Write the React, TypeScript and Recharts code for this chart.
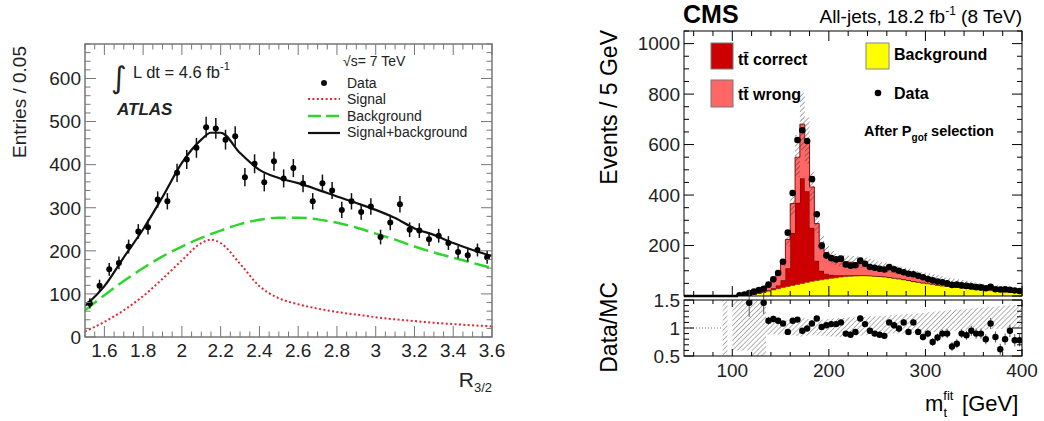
import React from "react";
import {
  Area,
  ComposedChart,
  ErrorBar,
  Line,
  ReferenceLine,
  Scatter,
  XAxis,
  YAxis,
} from "recharts";

document.body.style.margin = "0";

const FONT = "'Liberation Sans', Arial, Helvetica, sans-serif";

// ATLAS R_3/2 distribution, bins of 0.05 starting at 1.5
const atlasBinStart = 1.5;
const atlasBinWidth = 0.05;
const atlasCounts = [
  78, 119, 157, 172, 210, 245, 255, 319, 315, 381, 412, 439, 487, 484, 458, 466, 371, 402, 359, 408,
  368, 392, 356, 315, 357, 340, 295, 315, 290, 303, 232, 266, 308, 249, 247, 227, 235, 218, 197, 190,
  202, 185,
];
const atlasErrors = [
  12, 14, 15, 15, 16, 17, 17, 19, 19, 21, 22, 23, 24, 24, 23, 23, 21, 22, 21, 22, 21, 21, 20, 19, 20,
  20, 19, 19, 18, 19, 17, 18, 19, 17, 17, 16, 16, 16, 15, 15, 15, 15,
];

// fitted curves
const fitX = [1.5, 1.6, 1.7, 1.8, 1.9, 2.0, 2.1, 2.15, 2.2, 2.3, 2.4, 2.5, 2.6, 2.7, 2.8, 2.9, 3.0, 3.1, 3.2, 3.3, 3.4, 3.5, 3.6];
const fitSignal = [13, 35, 62, 95, 135, 178, 218, 226, 218, 170, 118, 90, 76, 66, 58, 52, 46, 41, 37, 33, 30, 27, 25];
const fitBackground = [62, 97, 130, 160, 187, 210, 230, 239, 247, 262, 272, 277, 277, 273, 265, 254, 240, 226, 210, 196, 184, 172, 160];
const fitTotal = [72, 118, 185, 250, 325, 404, 458, 474, 474, 427, 388, 369, 357, 342, 326, 311, 295, 276, 252, 237, 218, 202, 188];

// CMS m_t^fit, bins of 5 GeV starting at 90
const cmsBinStart = 90;
const cmsBinWidth = 5;
const cmsBackground = [
  0, 0, 0, 0, 1, 3, 6, 10, 14, 19, 24, 29, 34, 38, 42, 46, 50, 54, 58, 61, 64, 67, 70, 72, 75, 77, 78,
  79, 80, 80, 79, 78, 77, 75, 73, 70, 67, 64, 61, 57, 54, 51, 48, 46, 43, 40, 38, 36, 34, 32, 30, 28,
  26, 24, 22, 21, 19, 18, 16, 15, 14, 13,
];
const cmsCorrect = [
  0, 0, 0, 0, 0, 0, 1, 1, 2, 4, 7, 13, 28, 72, 208, 323, 417, 361, 212, 79, 36, 21, 14, 10, 7, 5, 4,
  3, 2, 2, 2, 2, 2, 2, 2, 2, 2, 2, 2, 2, 2, 2, 2, 1, 1, 1, 1, 1, 1, 1, 1, 1, 1, 1, 1, 1, 1, 1, 1, 1,
  1, 1,
];
const cmsWrong = [
  0, 0, 0, 2, 4, 6, 8, 10, 14, 24, 36, 51, 71, 114, 116, 181, 214, 195, 162, 147, 111, 84, 68, 61, 56,
  54, 52, 51, 48, 45, 40, 37, 33, 32, 29, 27, 26, 25, 24, 23, 22, 22, 21, 20, 19, 19, 17, 16, 15, 15,
  14, 13, 12, 12, 12, 11, 11, 10, 10, 9, 8, 8,
];
const cmsData: (number | null)[] = [
  null, null, null, 3, 6, 12, 18, 24, 29, 45, 66, 91, 136, 251, 408, 618, 657, 614, 463, 324, 199,
  160, 150, 145, 148, 125, 120, 122, 140, 128, 115, 112, 108, 105, 115, 106, 100, 94, 88, 86, 80, 74,
  67, 62, 57, 54, 50, 44, 45, 42, 40, 38, 35, 34, 31, 36, 27, 26, 27, 25, 22, 20,
];
const cmsRatio: (number | null)[] = [
  null, null, null, null, null, 1.45, null, null, 1.45,
  1.13, 1.16, 1.13, 1.08, 0.93, 1.13, 1.15, 0.95, 0.99, 1.08, 1.17, 1.02, 1.05, 1.07, 1.07, 1.1, 0.9,
  0.88, 0.93, 1.17, 1.07, 0.95, 0.9, 0.88, 0.86, 1.1, 1.05, 0.99, 1.1, 0.93, 1.1, 0.93, 0.84, 0.9,
  0.75, 0.83, 0.9, 0.9, 0.67, 0.72, 0.9, 0.87, 0.95, 0.9, 0.9, 0.8, 1.08, 0.84, 0.62, 0.8, 0.95, 0.78,
  0.78,
];
const cmsRatioErr: (number | null)[] = [
  null, null, null, null, null, 0.25, null, null, 0.2,
  0.07, 0.06, 0.05, 0.04, 0.03, 0.03, 0.03, 0.03, 0.03, 0.03, 0.03, 0.04, 0.04,
  0.04, 0.04, 0.05, 0.05, 0.05, 0.05, 0.05, 0.05, 0.05, 0.05,
  0.05, 0.05, 0.05, 0.06, 0.06, 0.06, 0.06, 0.06, 0.06, 0.06,
  0.07, 0.07, 0.07, 0.07, 0.08, 0.08, 0.08, 0.08, 0.08, 0.09,
  0.09, 0.09, 0.09, 0.1, 0.1, 0.1, 0.1, 0.11, 0.11, 0.11,
];
// MC uncertainty band, relative to the MC sum
const cmsBandLo = [
  0.5, 1, 0.6, 0.6, 0.6, 0.6, 0.5, 0.5, 0.5,
  0.88, 0.89, 0.88, 0.89, 0.88, 0.87, 0.86, 0.85, 0.86, 0.87, 0.87, 0.86, 0.86,
  0.85, 0.85, 0.84, 0.84, 0.85, 0.86, 0.86, 0.87, 0.87, 0.88,
  0.88, 0.89, 0.89, 0.9, 0.9, 0.9, 0.91, 0.91, 0.92, 0.92,
  0.93, 0.93, 0.94, 0.94, 0.95, 0.95, 0.95, 0.96, 0.96, 0.96,
  0.97, 0.97, 0.97, 0.98, 0.98, 0.98, 0.99, 0.99, 0.99, 0.99,
];
const cmsBandHi = [
  1.5, 1, 1.5, 1.5, 1.5, 1.5, 1.5, 1.5, 1.5,
  1.13, 1.12, 1.13, 1.12, 1.14, 1.15, 1.16, 1.18, 1.16, 1.14, 1.14, 1.15, 1.16,
  1.17, 1.17, 1.18, 1.18, 1.19, 1.19, 1.2, 1.2, 1.21, 1.21,
  1.22, 1.22, 1.23, 1.23, 1.24, 1.24, 1.25, 1.25, 1.26, 1.27,
  1.28, 1.29, 1.3, 1.3, 1.31, 1.32, 1.33, 1.33, 1.34, 1.35,
  1.36, 1.36, 1.37, 1.38, 1.38, 1.39, 1.4, 1.4, 1.41, 1.42,
];
const cmsNoDataUpTo = 106;

function range(a: number, b: number, step: number) {
  const out: number[] = [];
  for (let v = a; v <= b + 1e-9; v += step) out.push(Math.round(v * 1000) / 1000);
  return out;
}

const atlasPoints = atlasCounts.map((y, i) => ({
  x: atlasBinStart + (i + 0.5) * atlasBinWidth,
  y,
  err: atlasErrors[i],
}));
const atlasCurve = fitX.map((x, i) => ({
  x,
  sig: fitSignal[i],
  bkg: fitBackground[i],
  tot: fitTotal[i],
}));

const cmsTable = cmsBackground.map((bg, i) => {
  const total = bg + cmsCorrect[i] + cmsWrong[i];
  return {
    x: cmsBinStart + i * cmsBinWidth,
    bg,
    cor: cmsCorrect[i],
    wro: cmsWrong[i],
    band: [total * cmsBandLo[i], total * cmsBandHi[i]],
    rband: [cmsBandLo[i], cmsBandHi[i]],
  };
});
cmsTable.push({ ...cmsTable[cmsTable.length - 1], x: 400 });

const cmsPoints = cmsData
  .map((y, i) => ({ x: cmsBinStart + (i + 0.5) * cmsBinWidth, y }))
  .filter((p) => p.y !== null);
const cmsRatioPoints = cmsRatio
  .map((y, i) => ({ x: cmsBinStart + (i + 0.5) * cmsBinWidth, y, err: cmsRatioErr[i] }))
  .filter((p) => p.y !== null);

type Side = "bottom" | "top" | "left" | "right";

// ticks point inwards, ROOT style; the label is drawn only on major ticks
function makeTick(
  side: Side,
  majors: number[],
  majorLen: number,
  minorLen: number,
  color: string,
  label?: (v: number) => string,
  fontSize = 19,
  offset = 20,
) {
  return (props: any) => {
    const { x, y, payload } = props;
    const v = payload.value as number;
    const major = majors.some((m) => Math.abs(m - v) < 1e-6);
    const len = major ? majorLen : minorLen;
    let x2 = x;
    let y2 = y;
    if (side === "bottom") y2 = y - len;
    if (side === "top") y2 = y + len;
    if (side === "left") x2 = x + len;
    if (side === "right") x2 = x - len;
    let text = null;
    if (label && major) {
      if (side === "bottom") {
        text = (
          <text x={x} y={y + offset} textAnchor="middle" fontSize={fontSize} fontFamily={FONT} fill="#222">
            {label(v)}
          </text>
        );
      } else if (side === "left") {
        text = (
          <text x={x - offset} y={y + fontSize * 0.36} textAnchor="end" fontSize={fontSize} fontFamily={FONT} fill="#222">
            {label(v)}
          </text>
        );
      }
    }
    return (
      <g>
        <line x1={x} y1={y} x2={x2} y2={y2} stroke={color} strokeWidth={1} />
        {text}
      </g>
    );
  };
}

const axisBase = {
  type: "number" as const,
  allowDataOverflow: true,
  interval: 0 as const,
  tickSize: 0,
  tickMargin: 0,
  axisLine: false,
  tickLine: false,
};

const atlasXTicks = range(1.5, 3.6, 0.05);
const atlasXMajors = range(1.6, 3.6, 0.2);
const atlasYTicks = range(0, 680, 20);
const atlasYMajors = range(0, 600, 100);

const cmsXTicks = range(60, 400, 20);
const cmsXMajors = [100, 200, 300, 400];
const cmsYTicks = range(0, 1050, 50);
const cmsYMajors = range(0, 1000, 200);
const ratioYTicks = range(0.5, 1.5, 0.1);
const ratioYMajors = [0.5, 1, 1.5];

const dot = (r: number) => (p: any) => <circle cx={p.cx} cy={p.cy} r={r} fill="#000" />;

function AtlasChart() {
  const grey = "#777";
  return (
    <ComposedChart width={520} height={421} data={atlasCurve} margin={{ top: 43, right: 27, bottom: 83, left: 84 }}>
      <XAxis {...axisBase} dataKey="x" domain={[1.5, 3.6]} ticks={atlasXTicks} height={1}
        tick={makeTick("bottom", atlasXMajors, 11, 5.5, grey, (v) => String(v), 19, 20)} />
      <XAxis {...axisBase} xAxisId="top" orientation="top" dataKey="x" domain={[1.5, 3.6]} ticks={atlasXTicks} height={1}
        tick={makeTick("top", atlasXMajors, 11, 5.5, grey)} />
      <YAxis {...axisBase} domain={[0, 680]} ticks={atlasYTicks} width={1}
        tick={makeTick("left", atlasYMajors, 11, 5.5, grey, (v) => String(v), 19, 4)} />
      <YAxis {...axisBase} yAxisId="right" orientation="right" domain={[0, 680]} ticks={atlasYTicks} width={1}
        tick={makeTick("right", atlasYMajors, 11, 5.5, grey)} />
      <Line dataKey="sig" type="monotone" stroke="#e3262f" strokeWidth={2} strokeDasharray="2 2.4" dot={false} isAnimationActive={false} />
      <Line dataKey="bkg" type="monotone" stroke="#2fd42f" strokeWidth={2.5} strokeDasharray="15 6" dot={false} isAnimationActive={false} />
      <Line dataKey="tot" type="monotone" stroke="#111" strokeWidth={2.2} dot={false} isAnimationActive={false} />
      <Scatter data={atlasPoints} dataKey="y" shape={dot(3)} isAnimationActive={false}>
        <ErrorBar dataKey="err" direction="y" width={0} stroke="#111" strokeWidth={1.5} />
      </Scatter>
    </ComposedChart>
  );
}

function CmsMain() {
  return (
    <ComposedChart width={524} height={300} data={cmsTable} margin={{ top: 30, right: 21, bottom: 3, left: 163 }}>
      <defs>
        <pattern id="hatchMain" width="3.5" height="3.5" patternUnits="userSpaceOnUse" patternTransform="rotate(45)">
          <line x1="0" y1="0" x2="0" y2="3.5" stroke="#333" strokeWidth="0.9" />
        </pattern>
      </defs>
      <XAxis {...axisBase} dataKey="x" domain={[50, 400]} ticks={cmsXTicks} height={1}
        tick={makeTick("bottom", cmsXMajors, 10, 5, "#000")} />
      <XAxis {...axisBase} xAxisId="top" orientation="top" dataKey="x" domain={[50, 400]} ticks={cmsXTicks} height={1}
        tick={makeTick("top", cmsXMajors, 10, 5, "#000")} />
      <YAxis {...axisBase} domain={[0, 1050]} ticks={cmsYTicks} width={1}
        tick={makeTick("left", cmsYMajors, 10, 5, "#000", (v) => (v === 0 ? "" : String(v)), 19, 4)} />
      <YAxis {...axisBase} yAxisId="right" orientation="right" domain={[0, 1050]} ticks={cmsYTicks} width={1}
        tick={makeTick("right", cmsYMajors, 10, 5, "#000")} />
      <Area dataKey="bg" stackId="mc" type="stepAfter" fill="#ffff00" fillOpacity={1} stroke="#6f6f10" strokeWidth={0.8} isAnimationActive={false} />
      <Area dataKey="cor" stackId="mc" type="stepAfter" fill="#cc0000" fillOpacity={1} stroke="#5a0000" strokeWidth={1} isAnimationActive={false} />
      <Area dataKey="wro" stackId="mc" type="stepAfter" fill="#ff6666" fillOpacity={1} stroke="#8a1010" strokeWidth={1} isAnimationActive={false} />
      <Area dataKey="band" type="stepAfter" fill="url(#hatchMain)" fillOpacity={1} stroke="none" isAnimationActive={false} />
      <ReferenceLine segment={[{ x: 50, y: 0 }, { x: cmsNoDataUpTo, y: 0 }]} stroke="#000" strokeWidth={2.5} />
      <Scatter data={cmsPoints} dataKey="y" shape={dot(3.3)} isAnimationActive={false} />
    </ComposedChart>
  );
}

function CmsRatio() {
  return (
    <ComposedChart width={524} height={131} data={cmsTable} margin={{ top: 9, right: 21, bottom: 64, left: 163 }}>
      <defs>
        <pattern id="hatchRatio" width="3.5" height="3.5" patternUnits="userSpaceOnUse" patternTransform="rotate(45)">
          <line x1="0" y1="0" x2="0" y2="3.5" stroke="#444" strokeWidth="0.8" />
        </pattern>
      </defs>
      <XAxis {...axisBase} dataKey="x" domain={[50, 400]} ticks={cmsXTicks} height={1}
        tick={makeTick("bottom", cmsXMajors, 7, 4, "#000", (v) => String(v), 19, 21)} />
      <XAxis {...axisBase} xAxisId="top" orientation="top" dataKey="x" domain={[50, 400]} ticks={cmsXTicks} height={1}
        tick={makeTick("top", cmsXMajors, 7, 4, "#000")} />
      <YAxis {...axisBase} domain={[0.5, 1.5]} ticks={ratioYTicks} width={1}
        tick={makeTick("left", ratioYMajors, 10, 5, "#000", (v) => String(v), 19, 4)} />
      <YAxis {...axisBase} yAxisId="right" orientation="right" domain={[0.5, 1.5]} ticks={ratioYTicks} width={1}
        tick={makeTick("right", ratioYMajors, 10, 5, "#000")} />
      <Area dataKey="rband" type="stepAfter" fill="url(#hatchRatio)" fillOpacity={1} stroke="none" isAnimationActive={false} />
      <ReferenceLine segment={[{ x: 50, y: 1 }, { x: 90, y: 1 }]} stroke="#777" strokeWidth={1} strokeDasharray="1 2" />
      <Scatter data={cmsRatioPoints} dataKey="y" shape={dot(3.2)} isAnimationActive={false}>
        <ErrorBar dataKey="err" direction="y" width={0} stroke="#555" strokeWidth={1} />
      </Scatter>
    </ComposedChart>
  );
}

function Overlay() {
  const t = { fontFamily: FONT, fill: "#222" };
  return (
    <svg width={1044} height={421} style={{ position: "absolute", left: 0, top: 0, pointerEvents: "none" }}>
      {/* ATLAS frame and labels */}
      <rect x={85} y={44} width={407} height={293} fill="none" stroke="#777" strokeWidth={1.5} />
      <text transform="translate(26 46) rotate(-90)" textAnchor="end" fontSize={19} {...t}>Entries / 0.05</text>
      <text x={492} y={387} textAnchor="end" fontSize={21} {...t}>
        R<tspan fontSize={13} dy={5}>3/2</tspan>
      </text>
      <text x={111} y={88} fontSize={30} fontFamily="'DejaVu Sans', sans-serif" fill="#222">∫</text>
      <text x={133} y={78} fontSize={16.5} {...t}>
        L dt = 4.6 fb<tspan fontSize={11} dy={-8}>-1</tspan>
      </text>
      <text x={117} y={115} fontSize={17} fontWeight="bold" fontStyle="italic" {...t}>ATLAS</text>
      <text x={343} y={66} fontSize={14} {...t}>√s= 7 TeV</text>
      <circle cx={324} cy={83} r={3} fill="#111" />
      <line x1={308} y1={99} x2={340} y2={99} stroke="#e3262f" strokeWidth={2} strokeDasharray="2 2.4" />
      <line x1={308} y1={116} x2={340} y2={116} stroke="#2fd42f" strokeWidth={2.5} strokeDasharray="13 5" />
      <line x1={308} y1={133} x2={340} y2={133} stroke="#111" strokeWidth={2.2} />
      <text x={347} y={88} fontSize={14} {...t}>Data</text>
      <text x={347} y={104} fontSize={14} {...t}>Signal</text>
      <text x={347} y={121} fontSize={14} {...t}>Background</text>
      <text x={347} y={137} fontSize={14} {...t}>Signal+background</text>

      {/* CMS frames and labels */}
      <rect x={684} y={31} width={338} height={265} fill="none" stroke="#000" strokeWidth={1} />
      <rect x={684} y={300} width={338} height={56} fill="none" stroke="#000" strokeWidth={1} />
      <text x={683} y={23} fontSize={25} fontWeight="bold" fontFamily={FONT} fill="#000">CMS</text>
      <text x={1022} y={23} textAnchor="end" fontSize={19} fontFamily={FONT} fill="#000">
        All-jets, 18.2 fb<tspan fontSize={12} dy={-8}>-1</tspan>
        <tspan dy={8}> (8 TeV)</tspan>
      </text>
      <text transform="translate(617 30) rotate(-90)" textAnchor="end" fontSize={23} fontFamily={FONT} fill="#000">Events / 5 GeV</text>
      <text transform="translate(617 282) rotate(-90)" textAnchor="end" fontSize={23} fontFamily={FONT} fill="#000">Data/MC</text>
      <text x={925} y={411} fontSize={22} fontFamily={FONT} fill="#000">
        m<tspan fontSize={13} dy={-11}>fit</tspan>
        <tspan fontSize={13} dx={-10} dy={17}>t</tspan>
        <tspan dx={15} dy={-6}>[GeV]</tspan>
      </text>
      <rect x={711} y={43} width={22} height={26} fill="#cc0000" stroke="#777" />
      <rect x={711} y={80} width={22} height={27} fill="#ff6666" stroke="#777" />
      <rect x={866} y={43} width={23} height={26} fill="#ffff00" stroke="#888" />
      <text x={738} y={65} fontSize={16} fontWeight="bold" fontFamily={FONT} fill="#000">tt̄ correct</text>
      <text x={738} y={100} fontSize={16} fontWeight="bold" fontFamily={FONT} fill="#000">tt̄ wrong</text>
      <text x={894} y={60} fontSize={16} fontWeight="bold" fontFamily={FONT} fill="#000">Background</text>
      <circle cx={878} cy={93} r={3.3} fill="#000" />
      <text x={894} y={99} fontSize={16} fontWeight="bold" fontFamily={FONT} fill="#000">Data</text>
      <text x={864} y={136} fontSize={14.5} fontWeight="bold" fontFamily={FONT} fill="#000">
        After P<tspan fontSize={10} dy={5}>gof</tspan>
        <tspan dy={-5}> selection</tspan>
      </text>
    </svg>
  );
}

export default function App() {
  return (
    <div style={{ position: "relative", width: 1044, height: 421, background: "#fff", overflow: "hidden" }}>
      <div style={{ position: "absolute", left: 0, top: 0 }}>
        <AtlasChart />
      </div>
      <div style={{ position: "absolute", left: 520, top: 0 }}>
        <CmsMain />
      </div>
      <div style={{ position: "absolute", left: 520, top: 290 }}>
        <CmsRatio />
      </div>
      <Overlay />
    </div>
  );
}
